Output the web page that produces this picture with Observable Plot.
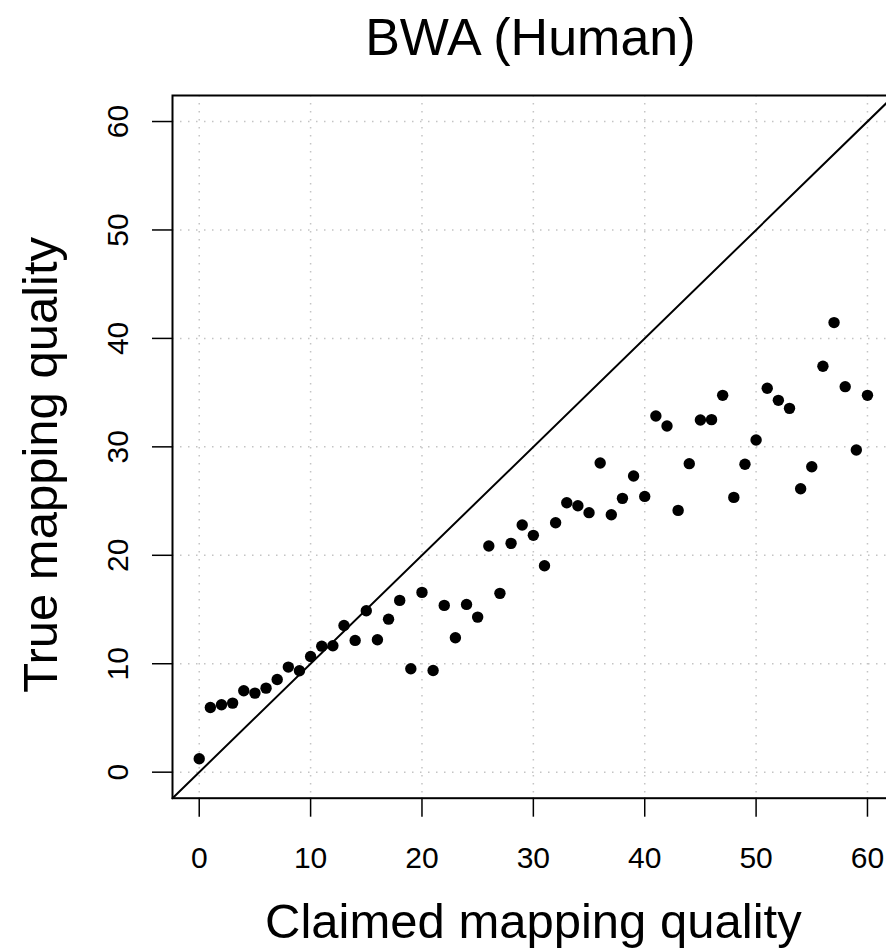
<!DOCTYPE html>
<html><head><meta charset="utf-8">
<script src="https://cdn.jsdelivr.net/npm/d3@7"></script>
<script src="https://cdn.jsdelivr.net/npm/@observablehq/plot@0.6"></script>
<style>html,body{margin:0;padding:0;overflow:hidden;background:#fff} svg{max-width:none !important;}</style>
</head><body><div id="chart"></div>
<script>
const title = "BWA (Human)";
const xLabel = "Claimed mapping quality";
const yLabel = "True mapping quality";
const claimed = [0,1,2,3,4,5,6,7,8,9,10,11,12,13,14,15,16,17,18,19,20,21,22,23,24,25,26,27,28,29,30,31,32,33,34,35,36,37,38,39,40,41,42,43,44,45,46,47,48,49,50,51,52,53,54,55,56,57,58,59,60];
const trueQ = [1.24,5.97,6.22,6.37,7.51,7.29,7.75,8.55,9.69,9.35,
  10.67,11.62,11.66,13.53,12.15,14.89,12.21,14.11,15.84,9.54,
  16.58,9.38,15.38,12.40,15.47,14.30,20.85,16.49,21.10,22.79,
  21.84,19.04,23.0,24.85,24.57,23.93,28.51,23.74,25.25,27.31,
  25.43,32.84,31.92,24.14,28.45,32.47,32.51,34.75,25.34,28.39,
  30.63,35.40,34.29,33.55,26.14,28.17,37.43,41.46,35.55,29.71,34.75];
const xTicks = [0,10,20,30,40,50,60];
const yTicks = [0,10,20,30,40,50,60];
const diag = [-2.4, 62.4];

const data = claimed.map((c, i) => ({claimed: c, trueQ: trueQ[i]}));
const font = "'Liberation Sans', Arial, Helvetica, sans-serif";

const chart = Plot.plot({
  width: 900,
  height: 950,
  marginLeft: 172,
  marginRight: 6.3,
  marginTop: 95,
  marginBottom: 152.3,
  style: {fontFamily: font, fontSize: "30px", background: "white", overflow: "visible", maxWidth: "none"},
  x: {domain: [-2.4, 62.4]},
  y: {domain: [-2.4, 62.4]},
  marks: [
    Plot.gridX(xTicks, {stroke: "#c4c4c4", strokeOpacity: 1, strokeWidth: 1.5, strokeDasharray: "1.5,6.5"}),
    Plot.gridY(yTicks, {stroke: "#c4c4c4", strokeOpacity: 1, strokeWidth: 1.5, strokeDasharray: "1.5,6.5"}),
    Plot.line(diag, {x: d => d, y: d => d, stroke: "black", strokeWidth: 2}),
    Plot.dot(data, {x: "claimed", y: "trueQ", r: 5.7, fill: "black", stroke: "none"}),
    Plot.frame({stroke: "black", strokeWidth: 2}),
    Plot.axisX(xTicks, {tickSize: 19, tickPadding: 29, fontSize: 30, label: null, strokeWidth: 1.5}),
    Plot.axisY(yTicks, {anchor: "left", tickSize: 20, tickPadding: 25, tickRotate: -90, fontSize: 30, label: null, strokeWidth: 1.5}),
    Plot.text([title], {text: d => d, frameAnchor: "top", dx: -3, dy: -41, lineAnchor: "bottom", textAnchor: "middle", fontSize: 52, fill: "black"}),
    Plot.text([xLabel], {text: d => d, frameAnchor: "bottom", dy: 140, lineAnchor: "bottom", textAnchor: "middle", fontSize: 49, fill: "black"}),
    Plot.text([yLabel], {text: d => d, frameAnchor: "left", dx: -116, dy: 18, rotate: -90, lineAnchor: "bottom", textAnchor: "middle", fontSize: 49, fill: "black"})
  ]
});
chart.style.maxWidth = "none";
document.getElementById("chart").appendChild(chart);
</script>
</body></html>
